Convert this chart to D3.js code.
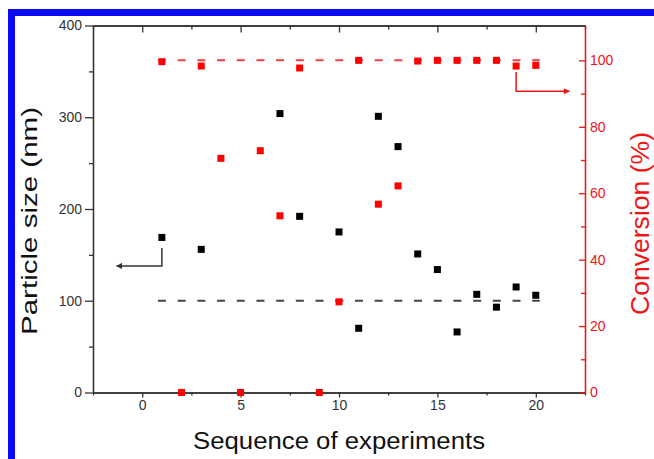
<!DOCTYPE html>
<html>
<head>
<meta charset="utf-8">
<script src="https://cdn.jsdelivr.net/npm/d3@7"></script>
<style>
  body { margin: 0; background: #fff; }
  svg { display: block; font-family: "Liberation Sans", Arial, sans-serif; }
</style>
</head>
<body>
<div id="chart"></div>
<script>
// particle size (black) per experiment
const sizeRuns = [1, 3, 7, 8, 10, 11, 12, 13, 14, 15, 16, 17, 18, 19, 20];
const sizeValues = [169, 156, 304, 192, 175, 70, 301, 268, 151, 134, 66, 107, 93, 115, 106];

// conversion (red) per experiment
const conversionRuns = [1, 2, 3, 4, 5, 6, 7, 8, 9, 10, 11, 12, 13, 14, 15, 16, 17, 18, 19, 20];
const conversionValues = [99.6, 0, 98.3, 70.5, 0, 72.8, 53.2, 97.7, 0, 27.3, 100, 56.7, 62.2, 99.8, 100, 100, 100, 100, 98.3, 98.5];

// dashed target lines
const sizeTarget = 100;
const conversionTarget = 100;
const targetSpan = [0.8, 20.2];

// arrows telling which axis each series belongs to
const sizeArrow = [[1, 157.5], [1, 138], [-1.3, 138]];
const conversionArrow = [[19, 96.5], [19, 90.7], [21.7, 90.7]];

const xTicks = [0, 5, 10, 15, 20];
const xMinorTicks = [-2.5, 2.5, 7.5, 12.5, 17.5, 22.5];
const sizeTicks = [0, 100, 200, 300, 400];
const sizeMinorTicks = [50, 150, 250, 350];
const conversionTicks = [0, 20, 40, 60, 80, 100];
const conversionMinorTicks = [10, 30, 50, 70, 90];

const width = 654;
const height = 459;
const margin = { top: 25.5, bottom: 66.5, left: 93, right: 69 };
const black = "#333";
const red = "#f01414";

const svg = d3
  .select("#chart")
  .append("svg")
  .attr("width", width)
  .attr("height", height);

// blue frame round the figure
svg
  .append("rect")
  .attr("x", 11.5)
  .attr("y", 12.5)
  .attr("width", width + 20)
  .attr("height", height + 20)
  .attr("fill", "#fff")
  .attr("stroke", "#0a0af5")
  .attr("stroke-width", 7);

const xScale = d3
  .scaleLinear()
  .domain([-2.5, 22.5])
  .range([margin.left, width - margin.right]);
const ySize = d3
  .scaleLinear()
  .domain([0, 400])
  .range([height - margin.bottom, margin.top]);
const yConv = d3
  .scaleLinear()
  .domain([0, 110.5])
  .range([height - margin.bottom, margin.top]);

const bottom = height - margin.bottom;
const right = width - margin.right;

function styleAxis(g, color) {
  g.selectAll("path").attr("stroke", color).attr("stroke-width", 1.3);
  g.selectAll("line").attr("stroke", color).attr("stroke-width", 1.3);
  g.selectAll("text")
    .attr("fill", color)
    .style("font-size", "14px")
    .style("font-family", "'Liberation Sans', Arial, sans-serif");
}

// bottom axis
svg
  .append("g")
  .attr("transform", `translate(0, ${bottom})`)
  .call(d3.axisBottom(xScale).tickValues(xMinorTicks).tickSize(3).tickSizeOuter(0).tickFormat(""))
  .call(g => styleAxis(g, black));
svg
  .append("g")
  .attr("transform", `translate(0, ${bottom})`)
  .call(d3.axisBottom(xScale).tickValues(xTicks).tickSize(5).tickPadding(3).tickSizeOuter(0))
  .call(g => styleAxis(g, black));

// top axis, ticks inward
svg
  .append("g")
  .attr("transform", `translate(0, ${margin.top})`)
  .call(d3.axisTop(xScale).tickValues(xMinorTicks).tickSize(-4).tickSizeOuter(0).tickFormat(""))
  .call(g => styleAxis(g, black));
svg
  .append("g")
  .attr("transform", `translate(0, ${margin.top})`)
  .call(d3.axisTop(xScale).tickValues(xTicks).tickSize(-7).tickSizeOuter(0).tickFormat(""))
  .call(g => styleAxis(g, black));

// left axis
svg
  .append("g")
  .attr("transform", `translate(${margin.left}, 0)`)
  .call(d3.axisLeft(ySize).tickValues(sizeMinorTicks).tickSize(4).tickSizeOuter(0).tickFormat(""))
  .call(g => styleAxis(g, black));
svg
  .append("g")
  .attr("transform", `translate(${margin.left}, 0)`)
  .call(d3.axisLeft(ySize).tickValues(sizeTicks).tickSize(8).tickPadding(3).tickSizeOuter(0))
  .call(g => styleAxis(g, black));

// right axis (red), ticks inward
svg
  .append("g")
  .attr("transform", `translate(${right}, 0)`)
  .call(d3.axisRight(yConv).tickValues(conversionMinorTicks).tickSize(-4).tickSizeOuter(0).tickFormat(""))
  .call(g => styleAxis(g, red));
svg
  .append("g")
  .attr("transform", `translate(${right}, 0)`)
  .call(d3.axisRight(yConv).tickValues(conversionTicks).tickSize(-6).tickPadding(5).tickSizeOuter(0))
  .call(g => styleAxis(g, red));

// dashed target lines
svg
  .append("line")
  .attr("x1", xScale(targetSpan[0]))
  .attr("x2", xScale(targetSpan[1]))
  .attr("y1", ySize(sizeTarget))
  .attr("y2", ySize(sizeTarget))
  .attr("stroke", "#444")
  .attr("stroke-width", 2)
  .attr("stroke-dasharray", "8,11.7");
svg
  .append("line")
  .attr("x1", xScale(targetSpan[0]))
  .attr("x2", xScale(targetSpan[1]))
  .attr("y1", yConv(conversionTarget))
  .attr("y2", yConv(conversionTarget))
  .attr("stroke", "#f04040")
  .attr("stroke-width", 2)
  .attr("stroke-dasharray", "8,11.7");

// arrow heads
const defs = svg.append("defs");
[["head-black", black], ["head-red", red]].forEach(function(m) {
  defs
    .append("marker")
    .attr("id", m[0])
    .attr("viewBox", "0 0 10 10")
    .attr("refX", 9)
    .attr("refY", 5)
    .attr("markerWidth", 9)
    .attr("markerHeight", 6)
    .attr("markerUnits", "userSpaceOnUse")
    .attr("orient", "auto")
    .append("path")
    .attr("d", "M0,0L10,5L0,10Z")
    .attr("fill", m[1]);
});

const sizeLine = d3.line().x(d => xScale(d[0])).y(d => ySize(d[1]));
const convLine = d3.line().x(d => xScale(d[0])).y(d => yConv(d[1]));

svg
  .append("path")
  .attr("d", sizeLine(sizeArrow))
  .attr("fill", "none")
  .attr("stroke", black)
  .attr("stroke-width", 1.5)
  .attr("marker-end", "url(#head-black)");
svg
  .append("path")
  .attr("d", convLine(conversionArrow))
  .attr("fill", "none")
  .attr("stroke", red)
  .attr("stroke-width", 1.5)
  .attr("marker-end", "url(#head-red)");

// squares
const sq = 7;
svg
  .append("g")
  .selectAll("rect")
  .data(conversionRuns)
  .enter()
  .append("rect")
  .attr("x", d => xScale(d) - sq / 2)
  .attr("y", (d, i) => yConv(conversionValues[i]) - sq / 2)
  .attr("width", sq)
  .attr("height", sq)
  .attr("fill", "#f00");
svg
  .append("g")
  .selectAll("rect")
  .data(sizeRuns)
  .enter()
  .append("rect")
  .attr("x", d => xScale(d) - sq / 2)
  .attr("y", (d, i) => ySize(sizeValues[i]) - sq / 2)
  .attr("width", sq)
  .attr("height", sq)
  .attr("fill", "#000");

// axis titles
svg
  .append("text")
  .attr("x", 339)
  .attr("y", 448.5)
  .attr("text-anchor", "middle")
  .attr("fill", "#111")
  .style("font-size", "23px")
  .attr("textLength", 292)
  .attr("lengthAdjust", "spacingAndGlyphs")
  .text("Sequence of experiments");

svg
  .append("text")
  .attr("transform", "translate(36.5, 221) rotate(-90)")
  .attr("text-anchor", "middle")
  .attr("fill", "#111")
  .style("font-size", "22px")
  .attr("textLength", 228)
  .attr("lengthAdjust", "spacingAndGlyphs")
  .text("Particle size (nm)");

svg
  .append("text")
  .attr("transform", "translate(649, 223.5) rotate(-90)")
  .attr("text-anchor", "middle")
  .attr("fill", red)
  .style("font-size", "26px")
  .attr("textLength", 183)
  .attr("lengthAdjust", "spacingAndGlyphs")
  .text("Conversion (%)");
</script>
</body>
</html>
